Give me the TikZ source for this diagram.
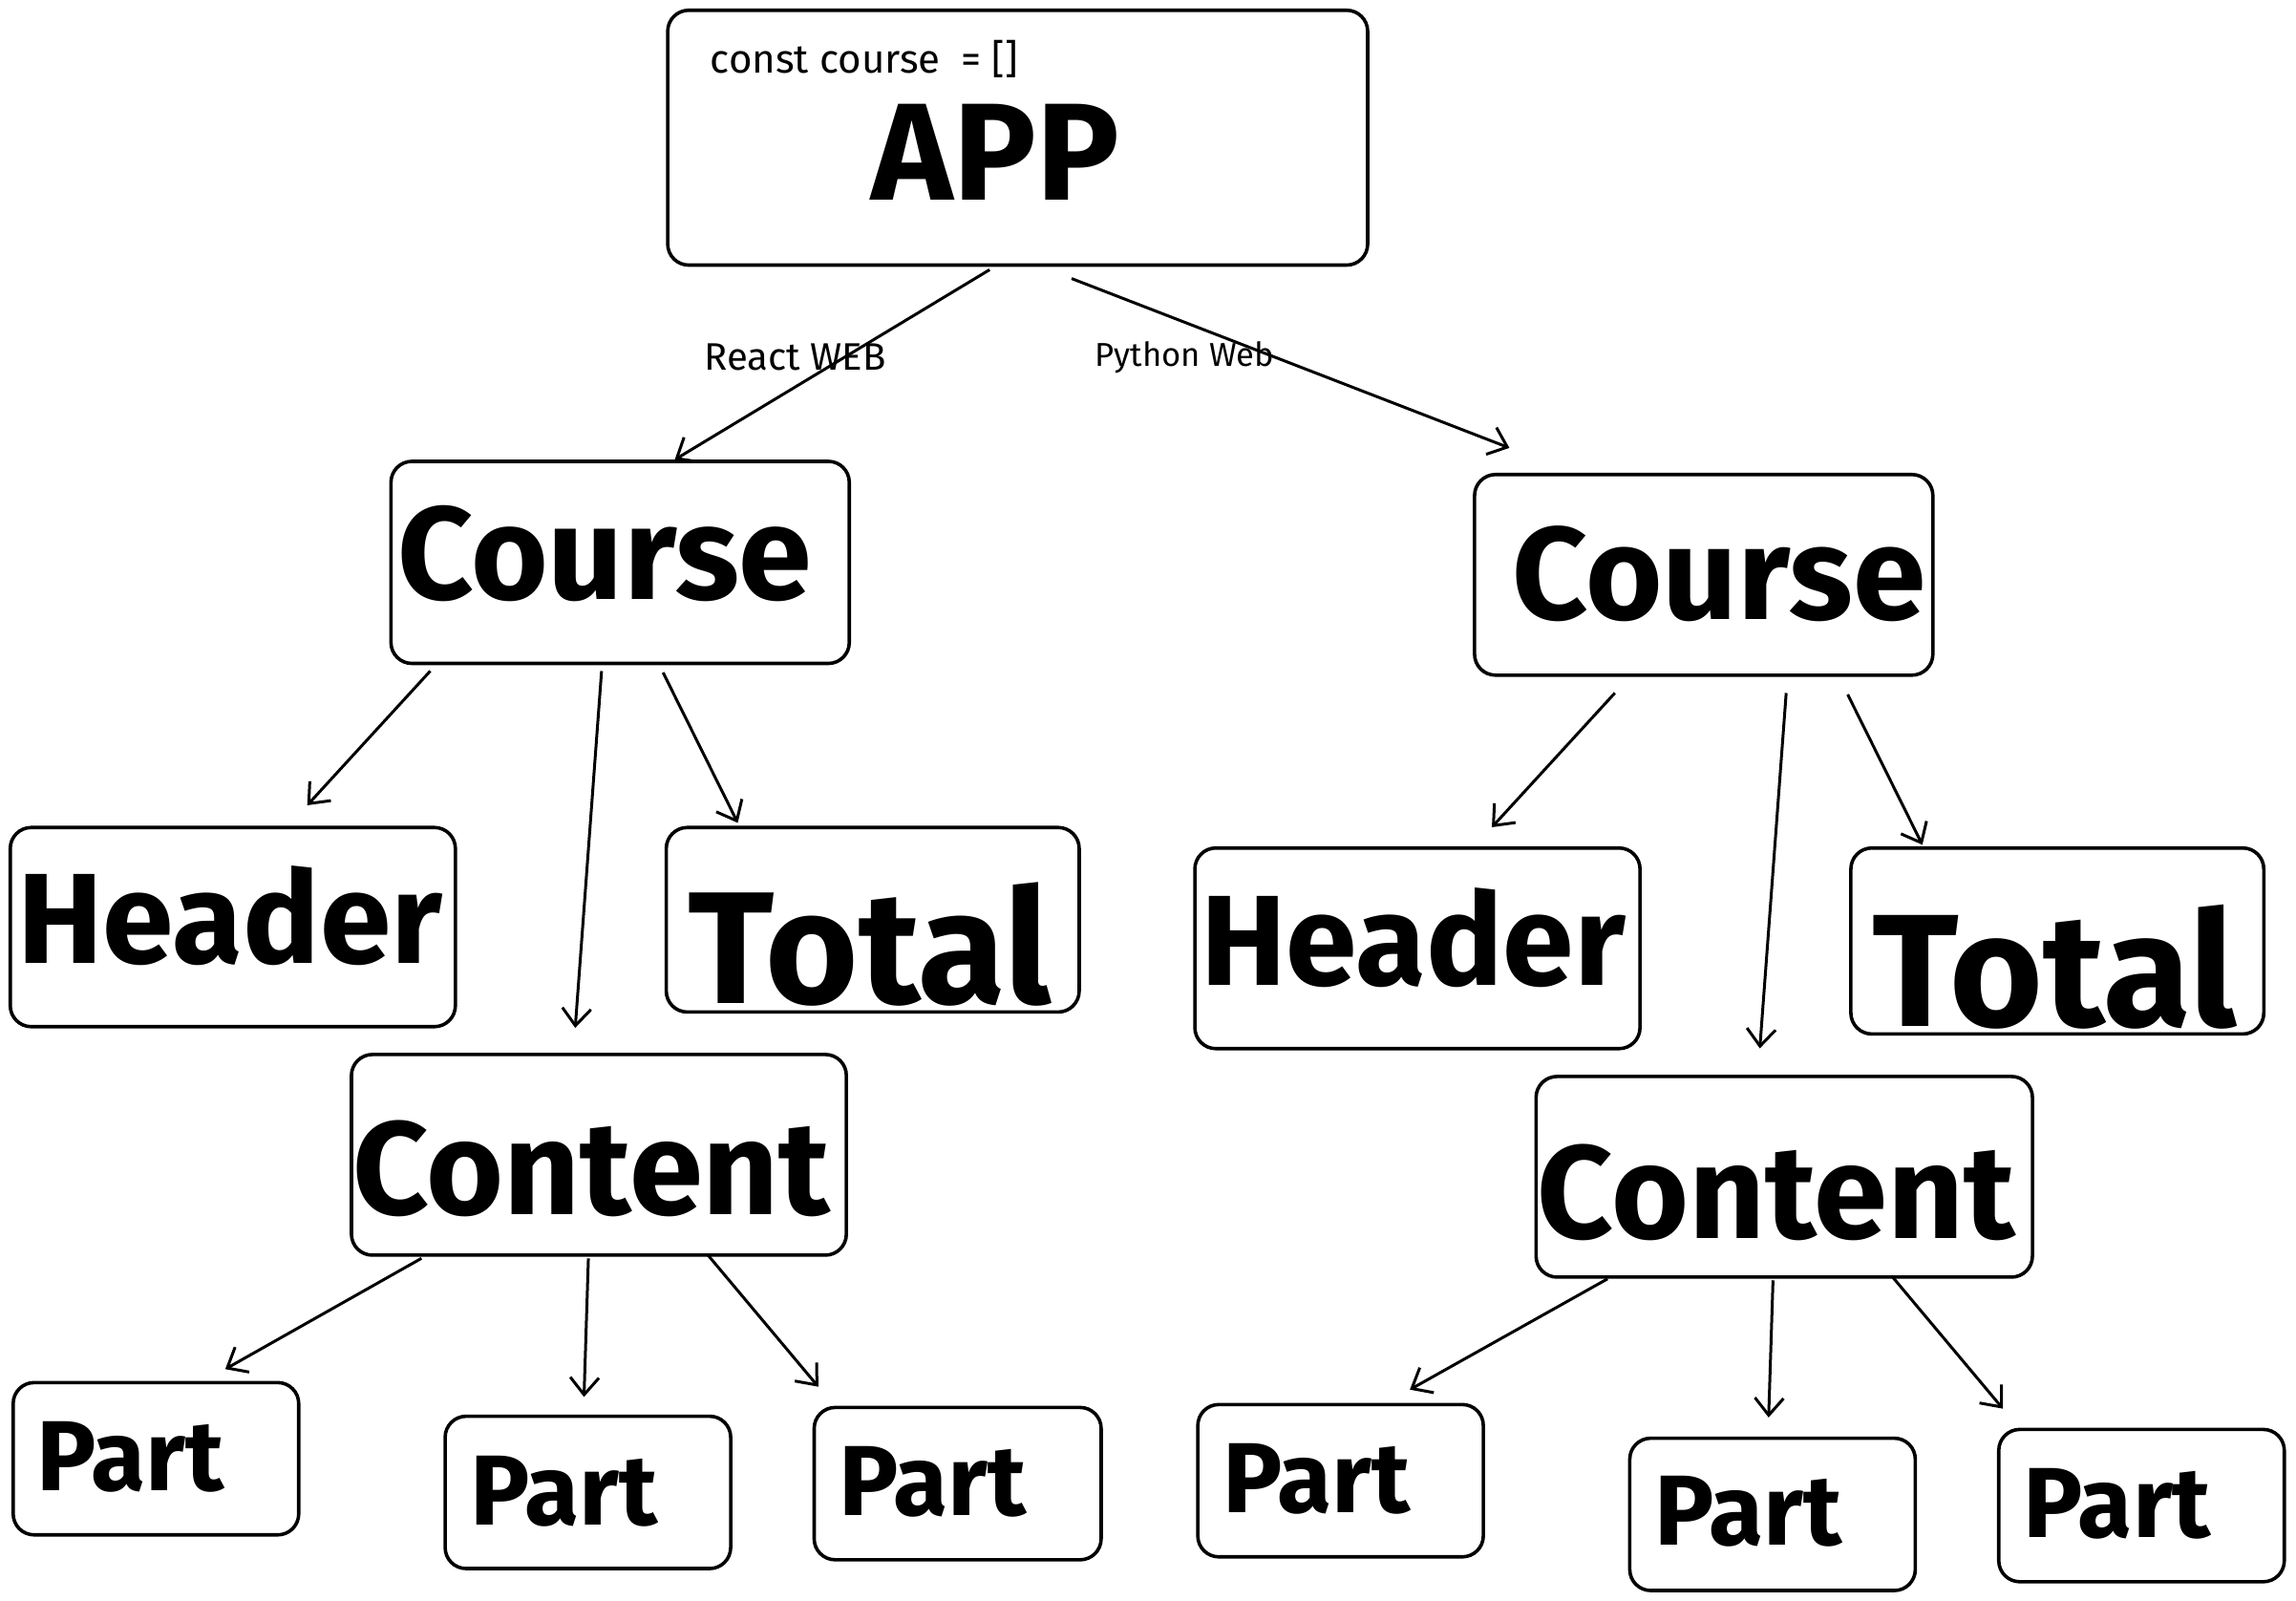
\documentclass[tikz,border=0pt]{standalone}
\usepackage{fontspec}
\setmainfont{Fira Sans}
\usetikzlibrary{arrows.meta}
\newdimen\unitpx \unitpx=0.7666pt
\newcommand{\fitw}[2]{\resizebox{#1\unitpx}{!}{#2}}
\begin{document}
\begin{tikzpicture}[x=0.7666pt,y=-0.7666pt,
  box/.style={draw, line width=1.8pt, rounded corners=11pt, inner sep=0pt},
  txt/.style={inner sep=0pt},
  conn/.style={line width=1.5pt, -{Straight Barb[length=9pt,width=15pt,line width=1.5pt]}}]
\useasboundingbox (0,0) rectangle (1568,1093);
% boxes
\node[box, minimum width=478\unitpx, minimum height=174\unitpx] (app) at (695,94) {};
\node[box, minimum width=313\unitpx, minimum height=138\unitpx] (c1) at (423.5,384) {};
\node[box, minimum width=313\unitpx, minimum height=137\unitpx] (c2) at (1163.5,392.5) {};
\node[box, minimum width=304\unitpx, minimum height=136\unitpx] (h1) at (159,633) {};
\node[box, minimum width=282\unitpx, minimum height=126\unitpx] (t1) at (596,628) {};
\node[box, minimum width=338\unitpx, minimum height=137\unitpx] (n1) at (409,788.5) {};
\node[box, minimum width=304\unitpx, minimum height=137\unitpx] (h2) at (968,647.5) {};
\node[box, minimum width=282\unitpx, minimum height=127\unitpx] (t2) at (1405,642.5) {};
\node[box, minimum width=339\unitpx, minimum height=137\unitpx] (n2) at (1218.5,803.5) {};
\node[box, minimum width=195\unitpx, minimum height=104\unitpx] (p1) at (106.5,996) {};
\node[box, minimum width=195\unitpx, minimum height=104\unitpx] (p2) at (401.5,1019) {};
\node[box, minimum width=196\unitpx, minimum height=104\unitpx] (p3) at (654,1013) {};
\node[box, minimum width=195\unitpx, minimum height=104\unitpx] (p4) at (915.5,1011) {};
\node[box, minimum width=195\unitpx, minimum height=104\unitpx] (p5) at (1210.5,1034) {};
\node[box, minimum width=195\unitpx, minimum height=104\unitpx] (p6) at (1462.5,1028) {};
% texts
\node[txt] (tapp) at (680,104) {\fitw{169}{\bfseries APP}};
\node[txt, anchor=west] (tconst) at (485,40) {\fitw{210}{const course\ \ = []}};
\node[txt] (tc1) at (413,378) {\fitw{283}{\bfseries Course}};
\node[txt] (tc2) at (1174,392) {\fitw{282}{\bfseries Course}};
\node[txt] (th1) at (157,625) {\fitw{290}{\bfseries Header}};
\node[txt] (tt1) at (594,645) {\fitw{248}{\bfseries Total}};
\node[txt] (tn1) at (404,798) {\fitw{326}{\bfseries Content}};
\node[txt] (th2) at (965,640) {\fitw{290}{\bfseries Header}};
\node[txt] (tt2) at (1403,660) {\fitw{249}{\bfseries Total}};
\node[txt] (tn2) at (1213,814) {\fitw{326}{\bfseries Content}};
\node[txt] (tp1) at (89,995) {\fitw{128}{\bfseries Part}};
\node[txt] (tp2) at (385,1018) {\fitw{128}{\bfseries Part}};
\node[txt] (tp3) at (637,1012) {\fitw{128}{\bfseries Part}};
\node[txt] (tp4) at (899,1010) {\fitw{128}{\bfseries Part}};
\node[txt] (tp5) at (1194,1032) {\fitw{128}{\bfseries Part}};
\node[txt] (tp6) at (1446,1027) {\fitw{128}{\bfseries Part}};
\node[txt] (lreact) at (543,244) {\fitw{124}{React WEB}};
\node[txt] (lpy) at (809,244) {\fitw{122}{Python Web}};
% connectors
\draw[conn] ([xshift=221\unitpx,yshift=-2\unitpx]app.south west) -- ([xshift=195\unitpx]c1.north west);
\draw[conn] ([xshift=277\unitpx,yshift=-8\unitpx]app.south west) -- ([xshift=25\unitpx,yshift=17\unitpx]c2.north west);
\draw[conn] ([xshift=28\unitpx,yshift=-4\unitpx]c1.south west) -- ([xshift=204\unitpx,yshift=14\unitpx]h1.north west);
\draw[conn] ([xshift=145\unitpx,yshift=-4\unitpx]c1.south west) -- ([xshift=154\unitpx,yshift=17\unitpx]n1.north west);
\draw[conn] ([xshift=187\unitpx,yshift=-5\unitpx]c1.south west) -- ([xshift=50\unitpx,yshift=2\unitpx]t1.north west);
\draw[conn] ([xshift=97\unitpx,yshift=-11\unitpx]c2.south west) -- ([xshift=204\unitpx,yshift=13\unitpx]h2.north west);
\draw[conn] ([xshift=214\unitpx,yshift=-11\unitpx]c2.south west) -- ([xshift=154\unitpx,yshift=18\unitpx]n2.north west);
\draw[conn] ([xshift=256\unitpx,yshift=-12\unitpx]c2.south west) -- ([xshift=50\unitpx,yshift=1\unitpx]t2.north west);
\draw[conn] ([xshift=49\unitpx,yshift=-1\unitpx]n1.south west) -- ([xshift=146\unitpx,yshift=8\unitpx]p1.north west);
\draw[conn] ([xshift=163\unitpx,yshift=-1\unitpx]n1.south west) -- ([xshift=96\unitpx,yshift=12\unitpx]p2.north west);
\draw[conn] ([xshift=244\unitpx,yshift=2\unitpx]n1.south west) -- ([xshift=4\unitpx,yshift=13\unitpx]p3.north west);
\draw[conn] ([xshift=50\unitpx]n2.south west) -- ([xshift=146\unitpx,yshift=9\unitpx]p4.north west);
\draw[conn] ([xshift=163\unitpx,yshift=-1\unitpx]n2.south west) -- ([xshift=96\unitpx,yshift=13\unitpx]p5.north west);
\draw[conn] ([xshift=244\unitpx,yshift=2\unitpx]n2.south west) -- ([xshift=4\unitpx,yshift=13\unitpx]p6.north west);
\end{tikzpicture}
\end{document}
